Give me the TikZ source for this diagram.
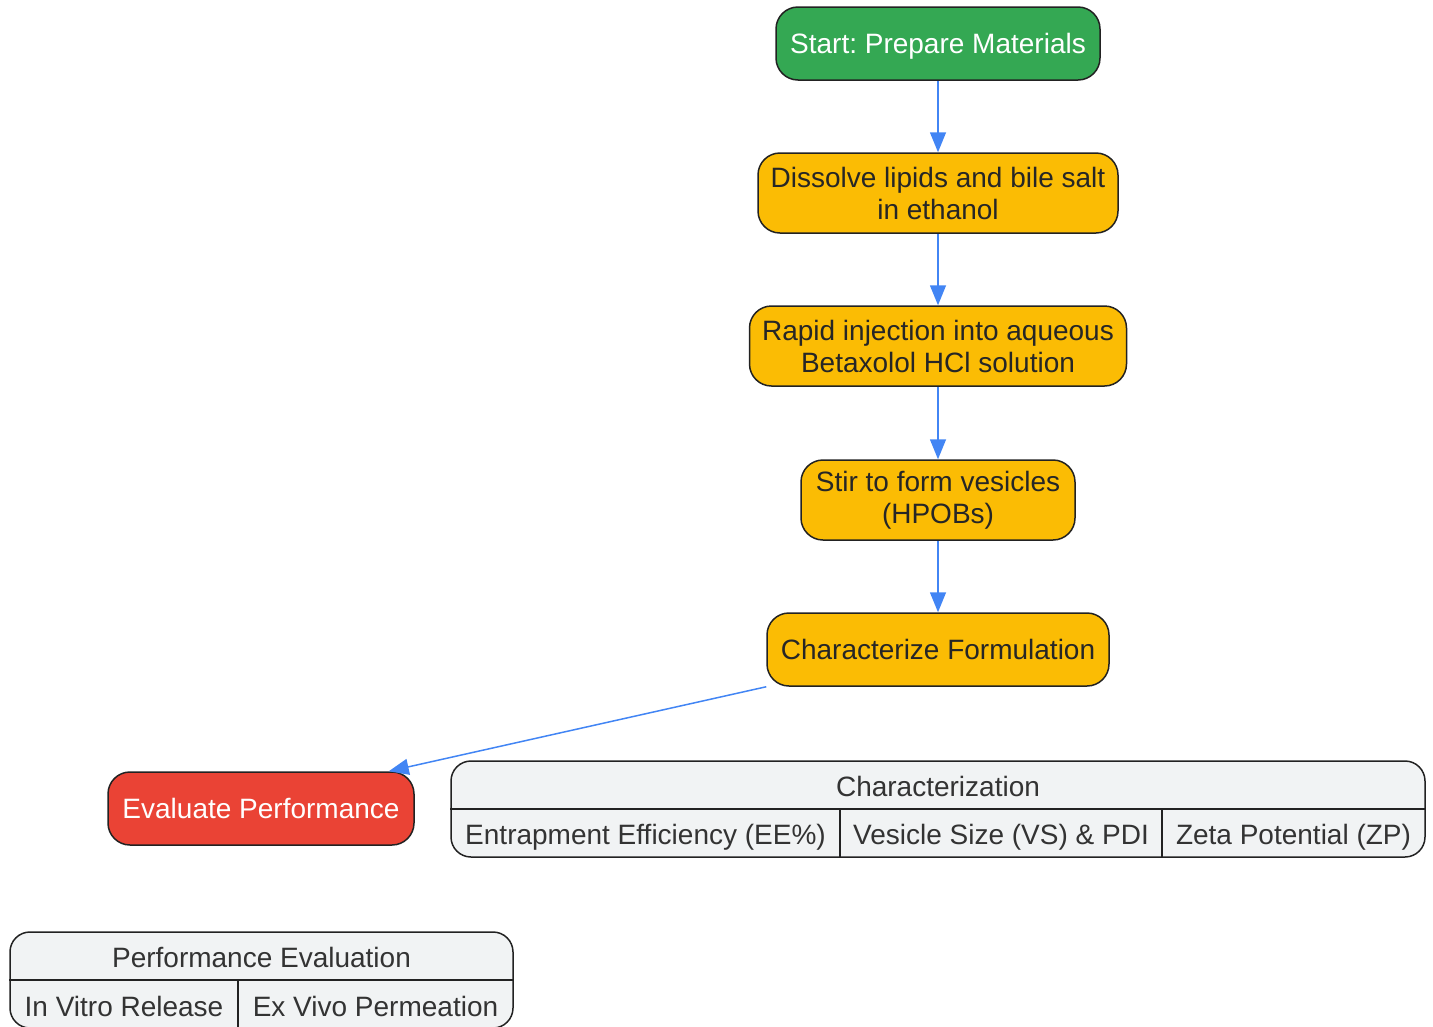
\documentclass[tikz,border=0pt]{standalone}
\usepackage{fontspec}
\setmainfont{Liberation Sans}
\frenchspacing
\usetikzlibrary{arrows.meta,calc}
\definecolor{gstart}{HTML}{34A853}
\definecolor{gstep}{HTML}{FBBC04}
\definecolor{gend}{HTML}{EA4335}
\definecolor{garrow}{HTML}{4285F4}
\definecolor{gtab}{HTML}{F1F3F4}
\definecolor{gline}{HTML}{222222}
\definecolor{gtext}{HTML}{333333}
\begin{document}
\begin{tikzpicture}[x=1pt,y=-1pt,
  every node/.style={font=\fontsize{28}{32}\selectfont},
  boxbase/.style={draw=gline,line width=1.5pt,rounded corners=22pt,align=center,inner sep=0pt},
  startbox/.style={boxbase,fill=gstart,text=white,text depth=0pt},
  stepbox/.style={boxbase,fill=gstep,text=black!85},
  endbox/.style={boxbase,fill=gend,text=white},
  tabbox/.style={draw=gline,line width=1.5pt,rounded corners=20pt,fill=gtab,inner sep=0pt},
  tabtext/.style={text=gtext,inner sep=0pt,text height=20pt,text depth=0pt},
  divider/.style={draw=gline,line width=1.5pt},
  flow/.style={draw=garrow,line width=1.5pt,-{Triangle[length=20pt,width=16pt]}}]
\useasboundingbox (0,0) rectangle (1433,1026);
\clip (0,0) rectangle (1433,1026);
\node[startbox,minimum width=324pt,minimum height=73pt] (s) at (938,43.5) {Start: Prepare Materials};
\node[stepbox,minimum width=360pt,minimum height=80pt] (d) at (938,193) {Dissolve lipids and bile salt\\in ethanol};
\node[stepbox,minimum width=377pt,minimum height=80pt] (r) at (938,346) {Rapid injection into aqueous\\Betaxolol HCl solution};
\node[stepbox,minimum width=274pt,minimum height=80pt] (v) at (938,500) {Stir to form vesicles\\(HPOBs)};
\node[stepbox,minimum width=342pt,minimum height=73pt] (c) at (938,649.5) {Characterize Formulation};
\node[endbox,minimum width=306pt,minimum height=73pt] (e) at (261,808.5) {Evaluate Performance};
\coordinate (etip) at ($(e.north east)+(-26,0)$);
\draw[flow] (s) -- (d);
\draw[flow] (d) -- (r);
\draw[flow] (r) -- (v);
\draw[flow] (v) -- (c);
\draw[flow] (c.south west) -- (etip);
% Characterization table
\node[tabbox,minimum width=974pt,minimum height=96pt] (tc) at (938,809) {};
\draw[divider] (tc.west) -- (tc.east);
\draw[divider] (840,809) -- (840,857);
\draw[divider] (1162,809) -- (1162,857);
\node[tabtext] (tch) at (938,786) {Characterization};
\node[tabtext] (tc1) at (645.5,834) {Entrapment Efficiency (EE\%)};
\node[tabtext] (tc2) at (1001,834) {Vesicle Size (VS) \& PDI};
\node[tabtext] (tc3) at (1293.5,834) {Zeta Potential (ZP)};
% Performance table
\node[tabbox,minimum width=503pt,minimum height=96pt] (tp) at (261.5,980) {};
\draw[divider] (tp.west) -- (tp.east);
\draw[divider] (238,980) -- (238,1030);
\node[tabtext] (tph) at (261.5,957) {Performance Evaluation};
\node[tabtext] (tp1) at (124,1006) {In Vitro Release};
\node[tabtext] (tp2) at (375.5,1006) {Ex Vivo Permeation};
\end{tikzpicture}
\end{document}
